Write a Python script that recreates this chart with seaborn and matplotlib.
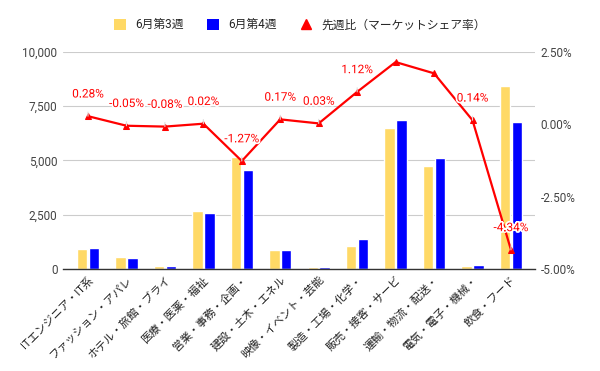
import numpy as np
import pandas as pd
import matplotlib
matplotlib.use("Agg")
import matplotlib.pyplot as plt
import matplotlib.patheffects as pe
from matplotlib.lines import Line2D
from matplotlib.patches import Patch
import seaborn as sns

categories = ["ITエンジニア・IT系", "ファッション・アパレ", "ホテル・旅館・ブライ", "医療・医薬・福祉",
              "営業・事務・企画・", "建設・土木・エネル", "映像・イベント・芸能", "製造・工場・化学・",
              "販売・接客・サービ", "運輸・物流・配送・", "電気・電子・機械・", "飲食・フード"]
week3 = [920, 550, 140, 2670, 5150, 875, 90, 1060, 6500, 4750, 140, 8430]
week4 = [970, 500, 150, 2580, 4560, 880, 100, 1380, 6850, 5100, 180, 6770]
share = [0.28, -0.05, -0.08, 0.02, -1.27, 0.17, 0.03, 1.12, 2.15, 1.76, 0.14, -4.34]
show_label = [True, True, True, True, True, True, True, True, False, False, True, True]
series_names = ["6月第3週", "6月第4週", "先週比（マーケットシェア率）"]
left_ticks = [0, 2500, 5000, 7500, 10000]
right_ticks = [-5.0, -2.5, 0.0, 2.5]

sns.set_theme(style="white")
plt.rcParams['font.family'] = ['Roboto', 'Noto Sans CJK JP', 'DejaVu Sans']

c_yellow = "#FFD966"
c_blue = "#0000FF"
c_red = "#FF0000"
txt = "#444444"

df = pd.DataFrame({
    "category": categories * 2,
    "week": [series_names[0]] * len(categories) + [series_names[1]] * len(categories),
    "value": week3 + week4,
})

fig = plt.figure(figsize=(6, 3.71), dpi=100)
ax = fig.add_axes([0.105, 0.275, 0.787, 0.585])

sns.barplot(data=df, x="category", y="value", hue="week", order=categories,
            hue_order=series_names[:2], palette=[c_yellow, c_blue], saturation=1,
            width=0.62, gap=0.12, legend=False, ax=ax, zorder=2)

ax.set_ylim(0, 10000)
ax.set_yticks(left_ticks)
ax.set_yticklabels([f"{v:,.0f}" for v in left_ticks], color=txt, fontsize=8.5)
ax.yaxis.grid(True, color="#cccccc", lw=0.8, zorder=0)
ax.set_axisbelow(True)
for s in ["top", "right", "left"]:
    ax.spines[s].set_visible(False)
ax.spines["bottom"].set_color("#333333")
ax.spines["bottom"].set_linewidth(1.0)
ax.set_xlabel("")
ax.set_ylabel("")
ax.tick_params(axis="both", length=0, pad=4)
ax.set_xticks(range(len(categories)))
ax.set_xticklabels(categories, rotation=45, ha="right", rotation_mode="anchor",
                   fontsize=8, color="#222222")

ax2 = ax.twinx()
x = np.arange(len(categories))
sns.lineplot(x=x, y=share, ax=ax2, color=c_red, lw=1.6, marker="^",
             markersize=5, markeredgecolor=c_red, zorder=5)
ax2.set_ylim(-5, 2.5)
ax2.set_yticks(right_ticks)
ax2.set_yticklabels([f"{v:.2f}%" for v in right_ticks], color=txt, fontsize=8.5)
ax2.tick_params(axis="y", length=0, pad=4)
for s in ["top", "right", "left", "bottom"]:
    ax2.spines[s].set_visible(False)
ax2.grid(False)

for xi, v, show in zip(x, share, show_label):
    if not show:
        continue
    ax2.annotate(f"{v:.2f}%", xy=(xi, v), xytext=(0, 16), textcoords="offset points",
                 ha="center", va="center", fontsize=8.5, color=c_red,
                 path_effects=[pe.withStroke(linewidth=2.5, foreground="white")],
                 arrowprops=dict(arrowstyle="-", color="#dddddd", lw=0.8,
                                 shrinkA=6, shrinkB=0),
                 zorder=6)

ax.set_xlim(-0.65, len(categories) - 0.37)

handles = [
    Patch(facecolor=c_yellow, edgecolor="none"),
    Patch(facecolor=c_blue, edgecolor="none"),
    Line2D([0], [0], marker="^", color="none", markerfacecolor=c_red,
           markeredgecolor=c_red, markersize=7),
]
fig.legend(handles, series_names, loc="center", bbox_to_anchor=(0.5, 0.933), ncol=3,
           frameon=False, fontsize=8.5, handlelength=1.0, handleheight=1.0,
           handletextpad=0.8, columnspacing=2.0)

fig.savefig("out.png", dpi=100)
